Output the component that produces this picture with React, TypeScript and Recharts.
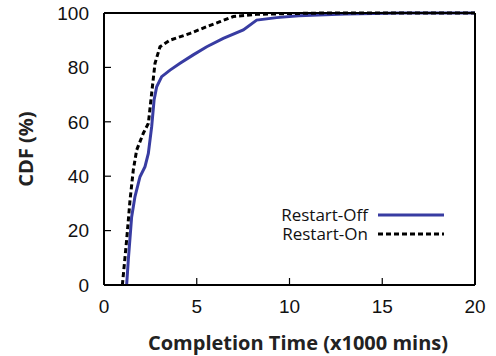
import { LineChart, Line, XAxis, YAxis, Legend } from 'recharts';

// Restart-Off curve (x in thousands of minutes, y in %)
const offX = [1.22, 1.31, 1.49, 1.67, 1.94, 2.21, 2.39, 2.57, 2.7, 2.84, 3.11, 3.56, 4.1, 4.81, 5.54, 6.43, 7.51, 8.23, 9.31, 10.5, 13, 16, 20];
const offY = [0, 9.2, 25, 32.5, 39.8, 43.5, 48.4, 58.2, 68, 72.9, 76.6, 79, 81.5, 84.6, 87.6, 90.7, 93.8, 97.4, 98.3, 99, 99.6, 100, 100];

// Restart-On curve
const onX = [0.99, 1.22, 1.4, 1.58, 1.76, 2.12, 2.39, 2.57, 2.75, 3.02, 3.56, 4.64, 5.54, 6.25, 6.97, 8.23, 10, 12, 20];
const onY = [0, 16.5, 31, 42.3, 49.6, 55.8, 59.4, 70.5, 81.5, 87.6, 90, 92.5, 95, 96.8, 98.7, 99.5, 99.8, 100, 100];

const xTicks = [0, 5, 10, 15, 20];
const yTicks = [0, 20, 40, 60, 80, 100];

const offData = offX.map((x, i) => ({ x, y: offY[i] }));
const onData = onX.map((x, i) => ({ x, y: onY[i] }));

const BLUE = '#383ca2';
const tickFont = { fontFamily: 'Liberation Sans, Arial, sans-serif', fontSize: 19, fill: '#111' };
const axisLine = { stroke: '#000', strokeWidth: 2 };
const tickLine = { stroke: '#000', strokeWidth: 1.2 };
const titleStyle = { fontFamily: 'Open Sans, sans-serif', fontWeight: 700, fontSize: 20, fill: '#222' };

const legendItems = [
  { label: 'Restart-Off', color: BLUE, dash: undefined },
  { label: 'Restart-On', color: '#000', dash: '5 3' },
];

function LegendBox() {
  return (
    <div style={{ fontFamily: 'Open Sans, sans-serif', fontSize: 17, lineHeight: '19px', color: '#111' }}>
      {legendItems.map((it) => (
        <div key={it.label} style={{ display: 'flex', alignItems: 'center', height: 19 }}>
          <span style={{ width: 108, textAlign: 'right', marginRight: 10 }}>{it.label}</span>
          <svg width={66} height={6}>
            <line x1={0} y1={3} x2={66} y2={3} stroke={it.color} strokeWidth={3} strokeDasharray={it.dash} />
          </svg>
        </div>
      ))}
    </div>
  );
}

export default function App() {
  return (
    <div style={{ position: 'absolute', left: 0, top: 0, background: '#fff' }}>
      <LineChart width={496} height={356} margin={{ top: 12, right: 20, bottom: 41, left: 44 }}>
        <XAxis
          xAxisId="b"
          dataKey="x"
          type="number"
          domain={[0, 20]}
          ticks={xTicks}
          height={30}
          tickSize={-7}
          tickMargin={22}
          axisLine={axisLine}
          tickLine={tickLine}
          tick={tickFont}
          allowDataOverflow
          label={{
            content: () => (
              <text x={298} y={342} textAnchor="middle" dominantBaseline="central" style={titleStyle}>
                Completion Time (x1000 mins)
              </text>
            ),
          }}
        />
        <XAxis
          xAxisId="t"
          orientation="top"
          dataKey="x"
          type="number"
          domain={[0, 20]}
          ticks={xTicks}
          height={1}
          tickSize={-7}
          axisLine={axisLine}
          tickLine={tickLine}
          tick={false}
        />
        <YAxis
          yAxisId="l"
          type="number"
          domain={[0, 100]}
          ticks={yTicks}
          width={60}
          tickSize={-7}
          tickMargin={22}
          axisLine={axisLine}
          tickLine={tickLine}
          tick={tickFont}
          label={{
            content: () => (
              <text x={25} y={149} transform="rotate(-90 25 149)" textAnchor="middle" dominantBaseline="central" style={titleStyle}>
                CDF (%)
              </text>
            ),
          }}
        />
        <YAxis
          yAxisId="r"
          orientation="right"
          type="number"
          domain={[0, 100]}
          ticks={yTicks}
          width={1}
          tickSize={-7}
          axisLine={axisLine}
          tickLine={tickLine}
          tick={false}
        />
        <Legend
          layout="horizontal"
          verticalAlign="middle"
          align="center"
          wrapperStyle={{ left: 260, top: 205, width: 200, height: 40 }}
          content={() => <LegendBox />}
        />
        <Line
          xAxisId="b"
          yAxisId="l"
          data={offData}
          dataKey="y"
          name="Restart-Off"
          type="linear"
          stroke={BLUE}
          strokeWidth={3}
          dot={false}
          isAnimationActive={false}
        />
        <Line
          xAxisId="b"
          yAxisId="l"
          data={onData}
          dataKey="y"
          name="Restart-On"
          type="linear"
          stroke="#000"
          strokeWidth={3}
          strokeDasharray="5 3"
          dot={false}
          isAnimationActive={false}
        />
      </LineChart>
    </div>
  );
}
